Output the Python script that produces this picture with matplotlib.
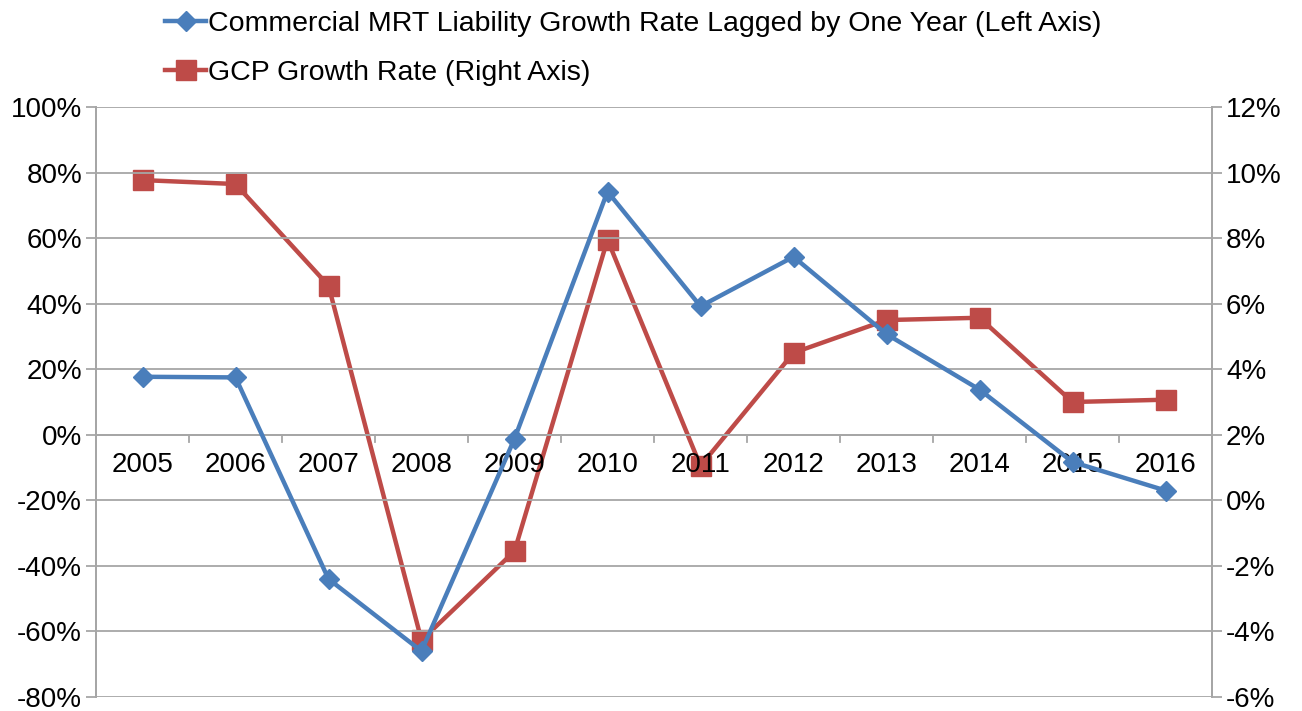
import matplotlib
matplotlib.use("Agg")
import matplotlib.pyplot as plt
from matplotlib.ticker import FuncFormatter, MultipleLocator

plt.rcParams['font.family'] = ['Liberation Sans', 'DejaVu Sans']

years = ['2005', '2006', '2007', '2008', '2009', '2010', '2011', '2012', '2013', '2014', '2015', '2016']
mrt_growth = [17.7, 17.5, -44.0, -66.0, -1.2, 74.2, 39.2, 54.3, 30.7, 13.8, -8.3, -17.0]
gcp_growth = [9.77, 9.65, 6.55, -4.27, -1.55, 7.95, 1.05, 4.5, 5.5, 5.57, 3.0, 3.07]

label_mrt = 'Commercial MRT Liability Growth Rate Lagged by One Year (Left Axis)'
label_gcp = 'GCP Growth Rate (Right Axis)'

blue = '#4a7ebb'
red = '#be4b48'
grid_c = '#a6a6a6'
FS = 20

fig = plt.figure(figsize=(13.02, 7.11), dpi=100)
ax = fig.add_axes([96/1302, 1-697/711, (1212-96)/1302, (697-107)/711])
ax2 = ax.twinx()

x = list(range(len(years)))
l1, = ax.plot(x, mrt_growth, color=blue, lw=3.2, marker='D', ms=10, zorder=3, label=label_mrt)
l2, = ax2.plot(x, gcp_growth, color=red, lw=3.2, marker='s', ms=14, zorder=3, label=label_gcp)

ax.set_ylim(-80, 100)
ax.yaxis.set_major_locator(MultipleLocator(20))
ax2.set_ylim(-6, 12)
ax2.yaxis.set_major_locator(MultipleLocator(2))
ax.yaxis.set_major_formatter(FuncFormatter(lambda v, p: f'{v:.0f}%'))
ax2.yaxis.set_major_formatter(FuncFormatter(lambda v, p: f'{v:.0f}%'))
ax.set_xlim(-0.5, len(years) - 0.5)

ax.grid(axis='y', color=grid_c, lw=1.3)
ax.set_axisbelow(True)
ax.set_xticks([])

# x axis at zero with category boundary ticks
ax.axhline(0, color=grid_c, lw=1.3, zorder=1)
for i in range(1, len(years)):
    ax.plot([i - 0.5, i - 0.5], [0, -2.2], color=grid_c, lw=1.3, zorder=1, clip_on=False)
for i, yr in enumerate(years):
    ax.text(i, -5.3, yr, ha='center', va='top', fontsize=FS, color='black', zorder=2)

for a in (ax, ax2):
    a.spines['top'].set_visible(False)
    a.spines['bottom'].set_visible(False)
    a.spines['left'].set_color(grid_c)
    a.spines['right'].set_color(grid_c)
    a.spines['left'].set_linewidth(1.3)
    a.spines['right'].set_linewidth(1.3)
    a.tick_params(axis='y', labelsize=FS, color=grid_c, length=7, width=1.3, pad=3)

ax.set_zorder(ax2.get_zorder() + 1)
ax.patch.set_visible(False)

fig.legend(handles=[l1, l2], loc='upper left', bbox_to_anchor=(158/1302, 1 - 4/711),
           frameon=False, fontsize=20.5, handlelength=1.45, handletextpad=0.05,
           labelspacing=0.8, borderaxespad=0.0, borderpad=0.25)

fig.savefig('out.png', dpi=100)
